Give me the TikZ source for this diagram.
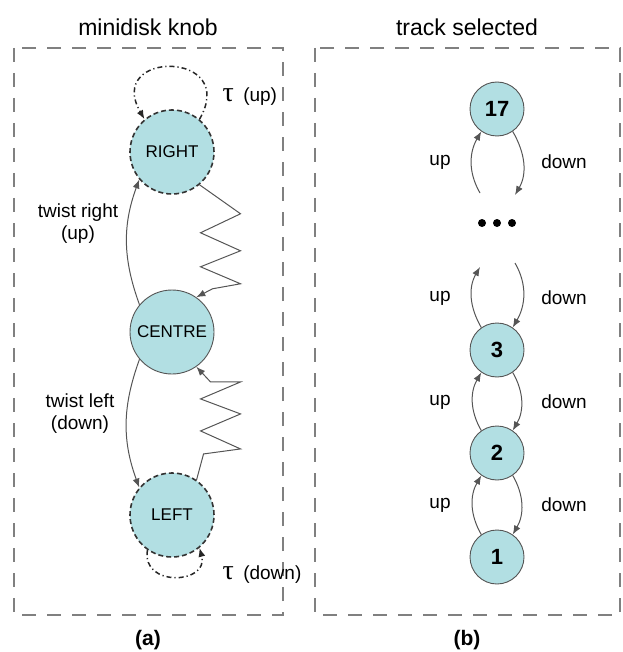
\documentclass[tikz,border=0pt]{standalone}
\usepackage{fontspec}
\setmainfont{Liberation Sans}
\newfontfamily\greekfont{Liberation Serif}
\usetikzlibrary{arrows.meta}
\definecolor{statefill}{RGB}{178,223,227}
\definecolor{boxgray}{RGB}{128,128,128}
\definecolor{edgegray}{RGB}{85,85,85}

\begin{document}
\begin{tikzpicture}[x=1pt,y=1pt,
	panel/.style={draw=boxgray,line width=2.5pt,dash pattern=on 14pt off 11pt},
	knob/.style={circle,fill=statefill,minimum size=84pt,inner sep=0pt,font=\fontsize{17}{17}\selectfont},
	softknob/.style={knob,draw=black!80,line width=1.6pt,dash pattern=on 5pt off 3pt},
	hardknob/.style={knob,draw=edgegray,line width=0.9pt},
	track/.style={circle,fill=statefill,draw=edgegray,line width=0.9pt,minimum size=54pt,inner sep=0pt,font=\fontsize{22}{22}\selectfont\bfseries},
	dot/.style={circle,fill=black,minimum size=8pt,inner sep=0pt},
	move/.style={draw=edgegray,line width=1pt,-{Latex[length=9pt,width=7pt]}},
	tau/.style={draw=black!85,line width=1.5pt,dash pattern=on 5pt off 3pt on 1.2pt off 3pt,-{Latex[length=9pt,width=7pt]}},
	lbl/.style={font=\fontsize{19}{22}\selectfont,align=center},
	]
	\useasboundingbox (0,0) rectangle (622,-652);

	%%% Titles and panels
	\node[font=\fontsize{23}{23}\selectfont] (titleknob) at (148,-27) {minidisk knob};
	\node[font=\fontsize{23}{23}\selectfont] (titletrack) at (467,-27) {track selected};
	\draw[panel] (14,-48) rectangle (283,-615);
	\draw[panel] (315,-48) rectangle (620,-615);
	\node[font=\fontsize{21}{21}\selectfont\bfseries] (capa) at (148,-640) {(a)};
	\node[font=\fontsize{21}{21}\selectfont\bfseries] (capb) at (467,-640) {(b)};

	%%% Knob states
	\node[softknob] (right) at (172,-152) {RIGHT};
	\node[hardknob] (centre) at (172,-332) {CENTRE};
	\node[softknob] (left) at (172,-515) {LEFT};

	%% tau loops
	\draw[tau] (right.50) .. controls +(60:80) and +(120:80) .. (right.130);
	\draw[tau] (left.-125) .. controls +(-100:38) and +(-75:38) .. (left.-50);
	\node[lbl,anchor=west] (tauup) at (219,-97) {{\greekfont\fontsize{28}{28}\selectfont τ}\enspace(up)};
	\node[lbl,anchor=west] (taudown) at (219,-575) {{\greekfont\fontsize{28}{28}\selectfont τ}\enspace(down)};

	%% twists
	\draw[move] (centre.140) to[out=110,in=-110] (right.220);
	\draw[move] (centre.-140) to[out=-110,in=110] (left.140);
	\node[lbl] (twistright) at (78,-224) {twist right\\(up)};
	\node[lbl] (twistleft) at (80,-414) {twist left\\(down)};

	%% springs back to centre
	\draw[move,line join=miter] (right.-50) -- ++(41,-29) -- ++(-40,-19) -- ++(40,-18)
		-- ++(-40,-16) -- ++(40,-17) -- ++(-28,-5) -- (centre.55);
	\draw[move,line join=miter] (left.55) -- ++(7,26) -- ++(37,5) -- ++(-40,18)
		-- ++(40,17) -- ++(-40,15) -- ++(40,17) -- ++(-30,0) -- (centre.-55);

	%%% Tracks
	\node[track] (t17) at (497,-109) {17};
	\node[track] (t3) at (497,-350) {3};
	\node[track] (t2) at (497,-453) {2};
	\node[track] (t1) at (497,-557) {1};
	\foreach \dx/\name in {-15/dotl,0/dotm,15/dotr}
		\node[dot] (\name) at (497+\dx,-223) {};

	\coordinate (gaptl) at (480,-193);
	\coordinate (gaptr) at (515,-195);
	\coordinate (gapbl) at (480,-267);
	\coordinate (gapbr) at (515,-263);

	%% up / down moves
	\draw[move] (gaptl) to[out=120,in=-120] (t17.235);
	\draw[move] (t17.-55) to[out=-60,in=60] (gaptr);
	\draw[move] (t3.125) to[out=120,in=-120] (gapbl);
	\draw[move] (gapbr) to[out=-60,in=60] (t3.55);
	\draw[move] (t2.125) to[out=120,in=-120] (t3.235);
	\draw[move] (t3.-55) to[out=-60,in=60] (t2.55);
	\draw[move] (t1.125) to[out=120,in=-120] (t2.235);
	\draw[move] (t2.-55) to[out=-60,in=60] (t1.55);

	\foreach \y/\k in {162/a,298/b,402/c,505/d}{
		\node[lbl] (up\k) at (440,-\y) {up};
		\node[lbl] (down\k) at (564,-\y) {down};
	}
\end{tikzpicture}
\end{document}
